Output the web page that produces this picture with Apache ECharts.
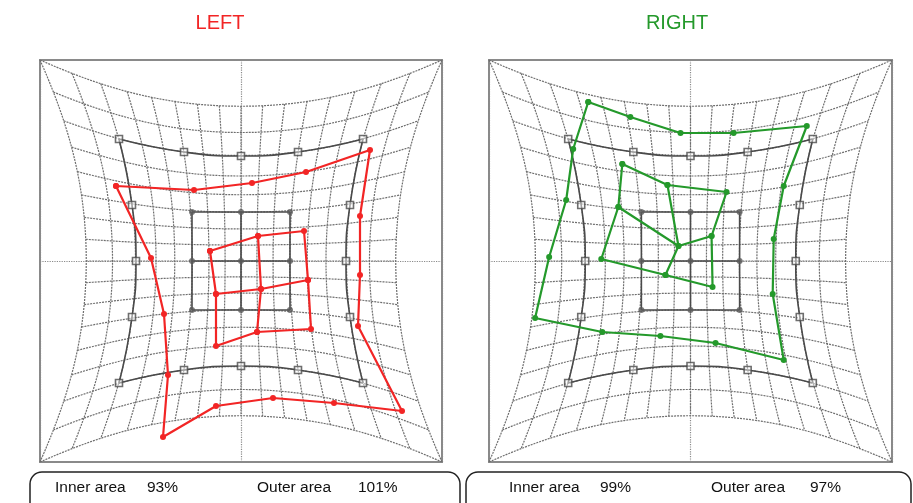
<!DOCTYPE html>
<html>
<head>
<meta charset="utf-8">
<script src="https://cdn.jsdelivr.net/npm/echarts@6/dist/echarts.min.js"></script>
<style>html,body{margin:0;padding:0;background:#fff}#c{width:913px;height:503px}</style>
</head>
<body>
<div id="c"></div>
<script>
// ---- data (pixel offsets from the panel centre, y downwards) ----
var panelTitles = ['LEFT', 'RIGHT'];
var innerAreaLabels = ['93%', '99%'];
var outerAreaLabels = ['101%', '97%'];

// reference targets (same in both panels)
var refOuter = [[-122,-122],[-57,-109],[0,-105],[57,-109],[122,-122],
                [109,-56],[105,0],[109,56],[122,122],[57,109],[0,105],
                [-57,109],[-122,122],[-109,56],[-105,0],[-109,-56]];
var refInner = [[-49,-49],[0,-49],[49,-49],[49,0],[49,49],[0,49],[-49,49],[-49,0],[0,0]];
// reference connecting rows / columns
var refTopRow = [[-122,-122],[-57,-109],[0,-105],[57,-109],[122,-122]];
var refBottomRow = [[-122,122],[-57,109],[0,105],[57,109],[122,122]];
var refLeftCol = [[-122,-122],[-109,-56],[-105,0],[-109,56],[-122,122]];
var refRightCol = [[122,-122],[109,-56],[105,0],[109,56],[122,122]];
var refInnerRows = [[[-49,-49],[0,-49],[49,-49]],[[-49,0],[0,0],[49,0]],[[-49,49],[0,49],[49,49]]];
var refInnerCols = [[[-49,-49],[-49,0],[-49,49]],[[0,-49],[0,0],[0,49]],[[49,-49],[49,0],[49,49]]];

// LEFT measured points
var leftOuter = [[-125,-75],[-47,-71],[11,-78],[65,-89],[129,-111],[119,-45],[119,14],[117,65],
                 [161,150],[93,142],[32,137],[-25,145],[-78,176],[-73,114],[-77,53],[-90,-3]];
var leftInnerRing = [[-31,-10],[17,-25],[63,-30],[67,19],[70,68],[16,71],[-25,85],[-25,33]];
var leftInnerCentre = [20,28];

// RIGHT measured points
var rightOuter = [[-102,-159],[-60,-144],[-10,-128],[43,-128],[116,-135],[93,-75],[83,-22],[82,33],
                  [93,99],[25,82],[-30,75],[-88,71],[-155,57],[-141,-4],[-124,-61],[-117,-112]];
var rightInnerRing = [[-68,-97],[-23,-76],[36,-69],[21,-25],[22,26],[-25,14],[-89,-2],[-72,-54]];
var rightInnerCentre = [-12,-15];

// warped background grid: 16 x 16 cells, distortion coefficients
var gridHalfCells = 8;
var warpCoef = [15.80, 0.0384, 0.000241, 0.0623, 0.000431];

var RED = '#f22525', GREEN = '#24992b';

function warpF(own, other) {
  var a = own * own, b = other * other, c = warpCoef;
  return c[0] + c[1]*a + c[2]*a*a + c[3]*b + c[4]*b*b;
}
function warp(u, v) {
  var s = 201 / (gridHalfCells * warpF(gridHalfCells, gridHalfCells));
  return [u * warpF(u, v) * s, v * warpF(v, u) * s];
}
function warpedGridLines() {
  var lines = [], N = gridHalfCells;
  for (var i = -N; i <= N; i++) {
    var a = [], b = [];
    for (var t = -N; t <= N + 1e-9; t += 0.25) {
      a.push(warp(i, t));
      b.push(warp(t, i));
    }
    lines.push({coords: a}, {coords: b});
  }
  return lines;
}

var chart = echarts.init(document.getElementById('c'), null, {renderer: 'canvas'});

var grids = [
  {left: 40, top: 60, width: 402, height: 402, show: true, borderColor: '#8a8a8a', borderWidth: 2, backgroundColor: '#fff'},
  {left: 489, top: 60, width: 403, height: 402, show: true, borderColor: '#8a8a8a', borderWidth: 2, backgroundColor: '#fff'}
];
function axis(idx, inverse) {
  return {gridIndex: idx, type: 'value', min: -201, max: 201, interval: 201, inverse: inverse,
    axisLine: {show: false}, axisTick: {show: false}, axisLabel: {show: false},
    splitLine: {show: true, lineStyle: {color: '#8a8a8a', type: 'dotted', width: 1.2}}};
}

var series = [];
function addPanel(idx, outer, ring, centre, color) {
  series.push({type: 'lines', coordinateSystem: 'cartesian2d', xAxisIndex: idx, yAxisIndex: idx,
    polyline: true, silent: true, z: 1, data: warpedGridLines(),
    lineStyle: {color: '#6e6e6e', width: 1.2, type: [2, 1], opacity: 1}});
  var refLines = [refTopRow, refBottomRow, refLeftCol, refRightCol].concat(refInnerRows, refInnerCols);
  refLines.forEach(function (d) {
    series.push({type: 'line', xAxisIndex: idx, yAxisIndex: idx, data: d, smooth: 0.5, showSymbol: false,
      silent: true, z: 2, lineStyle: {color: '#4a4a4a', width: 1.6}});
  });
  series.push({type: 'scatter', xAxisIndex: idx, yAxisIndex: idx, data: refOuter, symbol: 'rect', symbolSize: 7,
    z: 3, itemStyle: {color: 'rgba(255,255,255,0.6)', borderColor: '#4a4a4a', borderWidth: 1.6}});
  series.push({type: 'scatter', xAxisIndex: idx, yAxisIndex: idx, data: refInner, symbol: 'circle', symbolSize: 6,
    z: 3, itemStyle: {color: '#5a5a5a'}});
  var lineOpt = function (d) {
    return {type: 'line', xAxisIndex: idx, yAxisIndex: idx, data: d, symbol: 'circle', symbolSize: 6,
      showSymbol: true, z: 5, lineStyle: {color: color, width: 2.2}, itemStyle: {color: color}};
  };
  series.push(lineOpt(outer.concat([outer[0]])));
  series.push(lineOpt(ring.concat([ring[0]])));
  series.push(lineOpt([ring[1], centre, ring[5]]));
  series.push(lineOpt([ring[7], centre, ring[3]]));
}
addPanel(0, leftOuter, leftInnerRing, leftInnerCentre, RED);
addPanel(1, rightOuter, rightInnerRing, rightInnerCentre, GREEN);

var font = 'Liberation Sans, Arial, sans-serif';
function txt(x, y, s, color, size, align) {
  return {type: 'text', x: x, y: y, style: {text: s, fill: color, font: size + 'px ' + font,
    textAlign: align || 'left', textVerticalAlign: 'middle'}};
}
var graphic = [
  txt(220, 23, panelTitles[0], RED, 20, 'center'),
  txt(677, 23, panelTitles[1], GREEN, 20, 'center'),
  {type: 'rect', shape: {x: 30, y: 472, width: 430, height: 60, r: 12}, style: {fill: 'none', stroke: '#222', lineWidth: 1.5}},
  {type: 'rect', shape: {x: 466, y: 472, width: 445, height: 60, r: 12}, style: {fill: 'none', stroke: '#222', lineWidth: 1.5}},
  txt(55, 488, 'Inner area', '#111', 15.5),
  txt(147, 488, innerAreaLabels[0], '#111', 15.5),
  txt(257, 488, 'Outer area', '#111', 15.5),
  txt(358, 488, outerAreaLabels[0], '#111', 15.5),
  txt(509, 488, 'Inner area', '#111', 15.5),
  txt(600, 488, innerAreaLabels[1], '#111', 15.5),
  txt(711, 488, 'Outer area', '#111', 15.5),
  txt(810, 488, outerAreaLabels[1], '#111', 15.5)
];

chart.setOption({
  animation: false,
  grid: grids,
  xAxis: [axis(0, false), axis(1, false)],
  yAxis: [axis(0, true), axis(1, true)],
  series: series,
  graphic: graphic
});
</script>
</body>
</html>
